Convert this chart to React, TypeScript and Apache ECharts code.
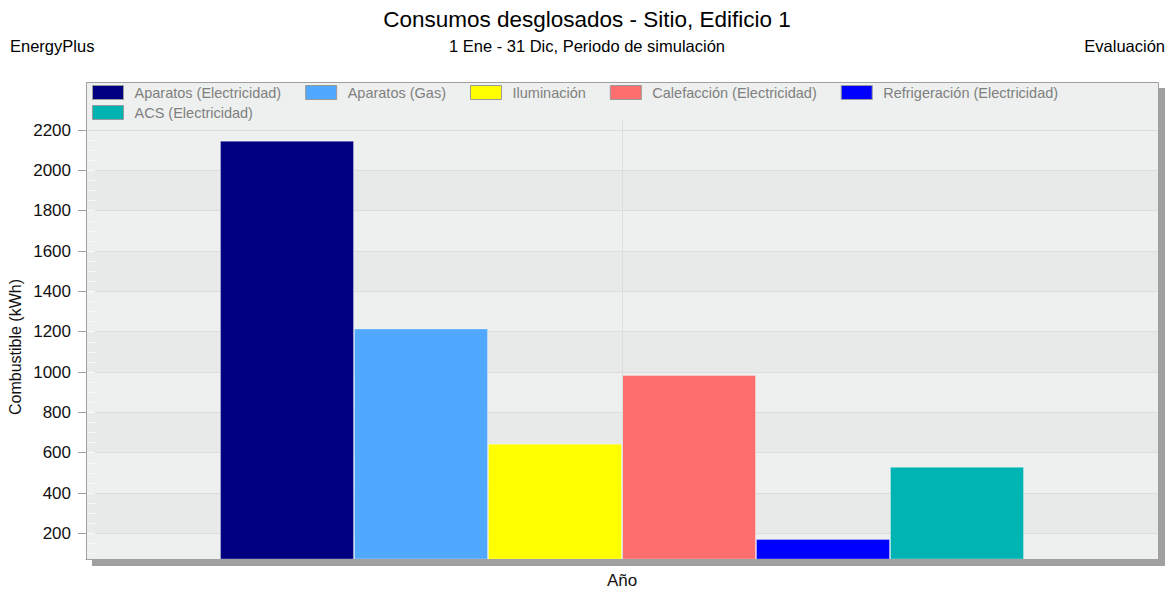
import React, { useEffect, useRef } from 'react';
import * as echarts from 'echarts';

const categories = ['Año'];
const seriesNames = [
  'Aparatos (Electricidad)',
  'Aparatos (Gas)',
  'Iluminación',
  'Calefacción (Electricidad)',
  'Refrigeración (Electricidad)',
  'ACS (Electricidad)',
];
const seriesValues = [2147, 1216, 645, 985, 172, 530];
const seriesColors = ['#000080', '#50a8ff', '#ffff00', '#ff6e6e', '#0000ff', '#00b4b4'];
const yTicks = [200, 400, 600, 800, 1000, 1200, 1400, 1600, 1800, 2000, 2200];
const yMin = 73;
const yMax = 2245;
const minorTicks = Array.from({ length: 42 }, (_, i) => 100 + i * 50);

const FONT = '"Liberation Sans", Arial, sans-serif';

export default function App() {
  const ref = useRef<HTMLDivElement>(null);
  useEffect(() => {
    if (!ref.current) return;
    const chart = echarts.init(ref.current, undefined, { renderer: 'svg' });
    const gridLeft = 86;
    const gridRight = 1158;
    const gridTop = 121;
    const gridBottom = 559;
    const panelTop = 82;
    const barSeries = seriesNames.map((name, i) => ({
      name,
      type: 'bar',
      data: [seriesValues[i]],
      barGap: '0%',
      barCategoryGap: '25%',
      itemStyle: {
        color: seriesColors[i],
        borderColor: 'rgba(255,255,255,0.3)',
        borderWidth: 1,
      },
      z: 2,
    }));
    const legendBase = {
      padding: 0,
      icon: 'rect',
      itemWidth: 31,
      itemHeight: 14,
      itemGap: 24,
      itemStyle: { borderColor: '#9a9a9a', borderWidth: 1 },
      textStyle: { fontSize: 14.5, color: '#808080', padding: [0, 0, 0, 6], fontFamily: FONT },
      selectedMode: false,
    };
    const option: any = {
      animation: false,
      textStyle: { fontFamily: FONT },
      title: [
        {
          text: 'Consumos desglosados - Sitio, Edificio 1',
          left: 'center',
          top: 8,
          padding: 0,
          textStyle: { fontSize: 22.5, fontWeight: 'normal', color: '#000', fontFamily: FONT },
        },
        {
          text: '1 Ene - 31 Dic, Periodo de simulación',
          left: 'center',
          top: 37,
          padding: 0,
          textStyle: { fontSize: 16.5, fontWeight: 'normal', color: '#000', fontFamily: FONT },
        },
        {
          text: 'EnergyPlus',
          left: 10,
          top: 37,
          padding: 0,
          textStyle: { fontSize: 16.5, fontWeight: 'normal', color: '#000', fontFamily: FONT },
        },
        {
          text: 'Evaluación',
          right: 9,
          top: 37,
          padding: 0,
          textStyle: { fontSize: 16.5, fontWeight: 'normal', color: '#000', fontFamily: FONT },
        },
      ],
      legend: [
        { ...legendBase, data: seriesNames.slice(0, 5), left: 92, top: 85 },
        { ...legendBase, data: seriesNames.slice(5), left: 92, top: 105 },
      ],
      grid: {
        left: gridLeft,
        right: 1174 - gridRight,
        top: gridTop,
        bottom: 592 - gridBottom,
        show: true,
        backgroundColor: '#eef0f0',
        borderWidth: 0,
        containLabel: false,
      },
      xAxis: {
        type: 'category',
        data: categories,
        axisLine: { show: true, lineStyle: { color: '#a0a0a0', width: 1 } },
        axisTick: { show: true, alignWithLabel: true, length: 7, lineStyle: { color: '#a0a0a0' } },
        axisLabel: { fontSize: 17, color: '#111', margin: 13, fontFamily: FONT },
        splitLine: { show: false },
        z: 1,
      },
      yAxis: [
        {
          type: 'value',
          min: yMin,
          max: yMax,
          axisLine: { show: true, lineStyle: { color: '#a0a0a0', width: 1 } },
          axisTick: {
            show: true,
            length: 8,
            lineStyle: { color: '#a0a0a0' },
            customValues: yTicks,
          },
          axisLabel: {
            fontSize: 17,
            color: '#111',
            margin: 15,
            customValues: yTicks,
            formatter: (v: number) => String(v),
            fontFamily: FONT,
          },
          splitLine: { show: true, lineStyle: { color: '#dcdede', width: 1 } },
          splitArea: { show: true, areaStyle: { color: ['#e8eaea', '#eef0f0'] } },
          z: 1,
        },
        {
          type: 'value',
          min: yMin,
          max: yMax,
          position: 'left',
          axisLine: { show: false },
          axisLabel: { show: false },
          splitLine: { show: false },
          axisTick: {
            show: true,
            inside: true,
            length: 9,
            lineStyle: { color: '#f8f9f9' },
            customValues: minorTicks,
          },
          z: 1,
        },
      ],
      series: [
        ...barSeries,
        {
          name: 'guide',
          type: 'line',
          data: [],
          z: 1,
          silent: true,
          markLine: {
            silent: true,
            symbol: ['none', 'none'],
            label: { show: false },
            lineStyle: { color: '#dcdede', type: 'solid', width: 1 },
            data: [{ xAxis: categories[0] }],
          },
        },
      ],
      graphic: [
        {
          type: 'rect',
          z: -10,
          silent: true,
          shape: { x: gridLeft + 6, y: panelTop + 6, width: gridRight - gridLeft + 1, height: gridBottom - panelTop + 1 },
          style: { fill: '#a0a0a0' },
        },
        {
          type: 'rect',
          z: -5,
          silent: true,
          shape: { x: gridLeft, y: panelTop, width: gridRight - gridLeft, height: gridTop - panelTop },
          style: { fill: '#eef0ef' },
        },
        {
          type: 'rect',
          z: 50,
          silent: true,
          shape: { x: gridLeft + 0.5, y: panelTop + 0.5, width: gridRight - gridLeft, height: gridBottom - panelTop },
          style: { fill: 'none', stroke: '#a0a0a0', lineWidth: 1 },
        },
        {
          type: 'text',
          x: 15,
          y: 347,
          rotation: Math.PI / 2,
          silent: true,
          style: {
            text: 'Combustible (kWh)',
            fontSize: 16,
            fill: '#111',
            align: 'center',
            verticalAlign: 'middle',
            fontFamily: FONT,
          },
        },
      ],
    };
    chart.setOption(option);
    return () => chart.dispose();
  }, []);
  return (
    <div
      ref={ref}
      style={{ position: 'fixed', left: 0, top: 0, width: 1174, height: 592, background: '#fff' }}
    />
  );
}
